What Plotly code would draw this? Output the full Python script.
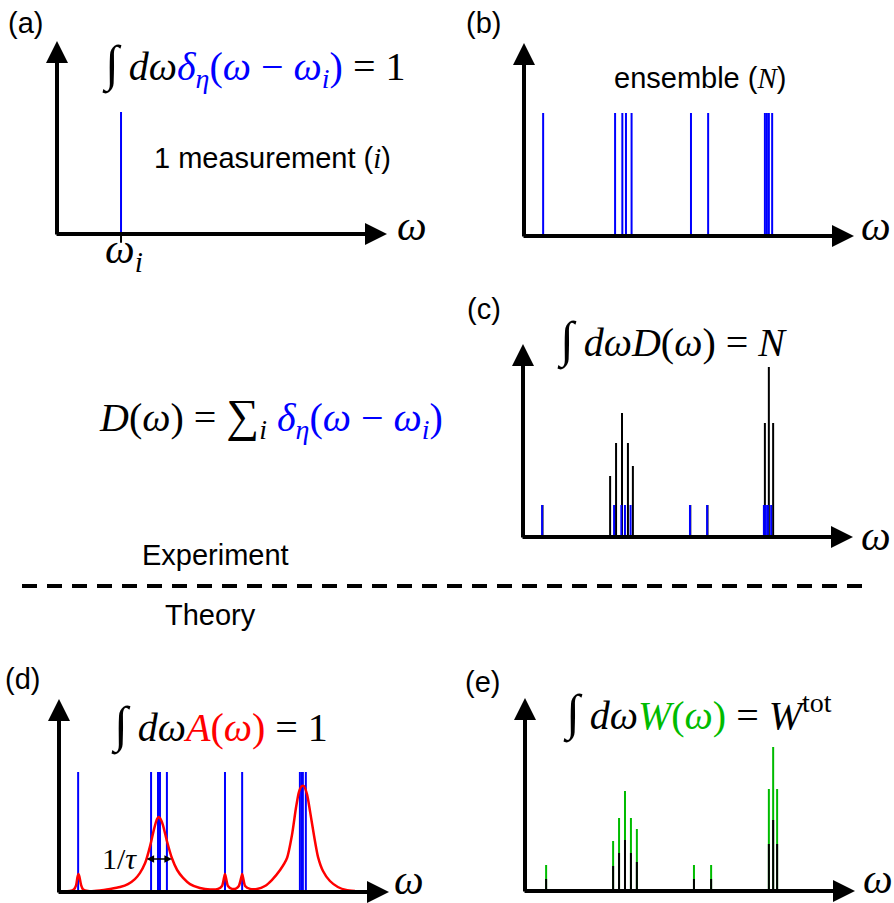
import plotly.graph_objects as go

W, H = 894, 903

# ---------------- data (omega in arbitrary units 0-100, heights 0-100) ----------------
a_x = [19.4]
a_h = [63.2]

b_x = [5.8, 27.6, 29.8, 30.9, 32.6, 50.6, 55.8, 73.0, 73.6, 74.2, 75.2]
b_h = [63.7] * 11

c_blue_x = [5.8, 27.6, 29.8, 30.9, 32.6, 50.6, 55.8, 73.0, 73.6, 74.2, 75.2]
c_blue_h = [16.6] * 11
c_black_x = [5.9, 26.4, 28.2, 30.0, 31.8, 33.3, 50.7, 55.9, 73.3, 74.5, 75.8]
c_black_h = [16.6, 31.6, 48.7, 64.2, 48.7, 36.8, 16.6, 16.6, 59.1, 88.1, 59.1]

d_blue_x = [5.8, 27.9, 30.0, 30.6, 32.7, 50.3, 55.5, 73.0, 73.6, 73.9, 74.8]
d_blue_h = [62.2] * 11
d_red_x = [0.9, 3.3, 4.5, 5.2, 5.6, 5.9, 6.2, 6.7, 7.3, 8.8, 12.4, 15.5, 18.5, 20.9, 23.0,
           24.5, 26.1, 27.6, 28.8, 29.7, 30.2, 30.6, 31.5, 32.7, 34.2, 35.8, 37.6, 39.7,
           42.7, 45.8, 48.2, 49.4, 50.0, 50.3, 50.6, 51.2, 52.4, 53.6, 54.5, 55.2, 55.5,
           55.8, 56.4, 57.9, 60.0, 62.4, 64.5, 67.0, 69.1, 70.6, 71.8, 72.7, 73.6, 74.2,
           75.2, 76.1, 77.3, 78.5, 80.0, 82.1, 84.5, 87.0, 89.7]
d_red_y = [0.26, 0.5, 1.3, 3.6, 7.8, 9.3, 7.8, 3.6, 1.3, 0.5, 0.8, 1.6, 2.6, 4.1, 6.7,
           9.8, 15.0, 23.8, 32.6, 37.8, 38.9, 38.3, 34.7, 26.4, 17.6, 11.4, 7.3, 4.1,
           2.1, 1.3, 1.6, 3.1, 7.3, 9.3, 7.3, 3.1, 1.6, 1.8, 3.1, 7.3, 9.3,
           7.3, 3.1, 1.6, 1.6, 3.1, 6.2, 11.4, 17.6, 29.5, 43.5, 51.8, 54.9, 54.9,
           50.3, 41.5, 29.0, 18.1, 10.9, 5.7, 2.6, 1.0, 0.5]
d_tau = [26.1, 34.2]
d_tau_y = 17.1

e_x = [6.4, 26.7, 28.5, 30.3, 32.1, 33.9, 51.2, 56.4, 73.9, 75.2, 76.4]
e_green = [13.5, 25.9, 37.8, 51.8, 37.8, 32.1, 13.5, 13.5, 52.8, 74.6, 52.8]
e_black = [6.2, 13.0, 19.7, 26.4, 19.7, 15.0, 6.2, 6.2, 24.4, 36.8, 24.4]

BLUE, RED, GREEN = "#0000ff", "#ff0000", "#00bb00"
SANS = "Liberation Sans"
SERIF = "Liberation Serif"

# panel frames: (y-axis pixel x, baseline pixel y)
panels = {"a": (57, 234), "b": (524, 236), "c": (523, 537), "d": (59, 892), "e": (525, 891)}
XPX, YPX = 330, 193  # pixel span for 100 units
ppu = YPX / 100.0

fig = go.Figure()
layout = dict(width=W, height=H, margin=dict(l=0, r=0, t=0, b=0),
              paper_bgcolor="white", plot_bgcolor="rgba(0,0,0,0)", showlegend=False)
axmap = {}
for i, (k, (x0, b)) in enumerate(panels.items()):
    n = "" if i == 0 else str(i + 1)
    axmap[k] = ("x" + n, "y" + n)
    below = min(5 * ppu, H - b)  # pixels kept below the baseline
    layout["xaxis" + n] = dict(domain=[x0 / W, (x0 + XPX) / W], range=[0, 100], visible=False,
                               anchor="y" + n, fixedrange=True)
    layout["yaxis" + n] = dict(domain=[(H - b - below) / H, (H - b + YPX) / H],
                               range=[-below / ppu, 100], visible=False, anchor="x" + n, fixedrange=True)
fig.update_layout(**layout)


def sticks(xs, hs, color, panel, width=2):
    X, Y = [], []
    for x, h in zip(xs, hs):
        X += [x, x, None]
        Y += [0, h, None]
    xa, ya = axmap[panel]
    fig.add_trace(go.Scatter(x=X, y=Y, mode="lines", line=dict(color=color, width=width),
                             xaxis=xa, yaxis=ya, hoverinfo="skip"))


sticks(a_x, a_h, BLUE, "a")
sticks(a_x, [-4.5], "black", "a")
sticks(b_x, b_h, BLUE, "b")
sticks(c_black_x, c_black_h, "black", "c")
sticks(c_blue_x, c_blue_h, BLUE, "c")
sticks(d_blue_x, d_blue_h, BLUE, "d")
xa, ya = axmap["d"]
fig.add_trace(go.Scatter(x=d_red_x, y=d_red_y, mode="lines",
                         line=dict(color=RED, width=2.5, shape="spline", smoothing=0.6),
                         xaxis=xa, yaxis=ya, hoverinfo="skip"))
sticks(e_x, e_green, GREEN, "e")
sticks(e_x, e_black, "black", "e")

ann = []
# axis arrows
for k in panels:
    xa, ya = axmap[k]
    common = dict(xref=xa, yref=ya, axref=xa, ayref=ya, text="", showarrow=True,
                  arrowhead=2, arrowwidth=4, arrowsize=1.1, arrowcolor="black", standoff=0)
    ann.append(dict(x=100, y=0, ax=-0.6, ay=0, **common))
    ann.append(dict(x=0, y=100, ax=0, ay=-1.0, **common))

# 1/tau double arrow
xa, ya = axmap["d"]
ann.append(dict(xref=xa, yref=ya, axref=xa, ayref=ya, x=d_tau[1], y=d_tau_y, ax=d_tau[0], ay=d_tau_y,
                text="", showarrow=True, arrowhead=2, arrowside="end+start", arrowwidth=1.5,
                arrowsize=1, arrowcolor="black", standoff=0, startstandoff=0))


def label(px, py, text, size, family=SANS, color="black", xanchor="center"):
    ann.append(dict(xref="paper", yref="paper", x=px / W, y=1 - py / H, text=text,
                    showarrow=False, xanchor=xanchor, yanchor="middle",
                    font=dict(size=size, family=family, color=color)))


MS = 40
SS = 29
INT = "<span style='font-size:50px'>∫</span> "
sp_i = "<span style='font-family:Liberation Serif'><i>i</i></span>"
sp_N = "<span style='font-family:Liberation Serif'><i>N</i></span>"
delta = (f"<span style='color:{BLUE}'><i>δ</i><sub><i>η</i></sub>(<i>ω</i> − <i>ω</i><sub><i>i</i></sub>)</span>")

label(25, 23, "(a)", SS)
label(483, 23, "(b)", SS)
label(484, 309, "(c)", SS)
label(22, 679, "(d)", SS)
label(482, 682, "(e)", SS)

label(254, 65, INT + "<i>dω</i>" + delta + " = 1", MS, SERIF)
label(272, 158, "1 measurement (" + sp_i + ")", SS)
label(700, 78, "ensemble (" + sp_N + ")", SS)
label(672, 340, INT + "<i>dωD</i>(<i>ω</i>) = <i>N</i>", MS, SERIF)
label(271, 417, "<i>D</i>(<i>ω</i>) = <span style='font-size:46px'>∑</span><sub><i>i</i></sub> " + delta, MS, SERIF)
label(215, 555, "Experiment", SS)
label(210, 615, "Theory", SS)
label(219, 725, INT + f"<i>dω</i><span style='color:{RED}'><i>A</i>(<i>ω</i>)</span> = 1", MS, SERIF)
label(697, 713, INT + f"<i>dω</i><span style='color:{GREEN}'><i>W</i>(<i>ω</i>)</span> = <i>W</i><sup>tot</sup>", MS, SERIF)
label(119, 858, "1/<i>τ</i>", 30, SERIF)

# omega axis labels
for (px, py) in [(412, 226), (876, 226), (876, 536), (409, 880), (878, 879)]:
    label(px, py, "<i>ω</i>", 42, SERIF)
label(124, 252, "<i>ω</i><sub><i>i</i></sub>", 42, SERIF)

fig.update_layout(annotations=ann)
fig.add_shape(type="line", xref="paper", yref="paper",
              x0=22 / W, x1=870 / W, y0=1 - 586 / H, y1=1 - 586 / H,
              line=dict(color="black", width=4, dash="15px,10px"))

fig.write_html("out.html", config={"displayModeBar": False},
               post_script="document.body.style.margin='0';document.body.style.overflow='hidden';")
